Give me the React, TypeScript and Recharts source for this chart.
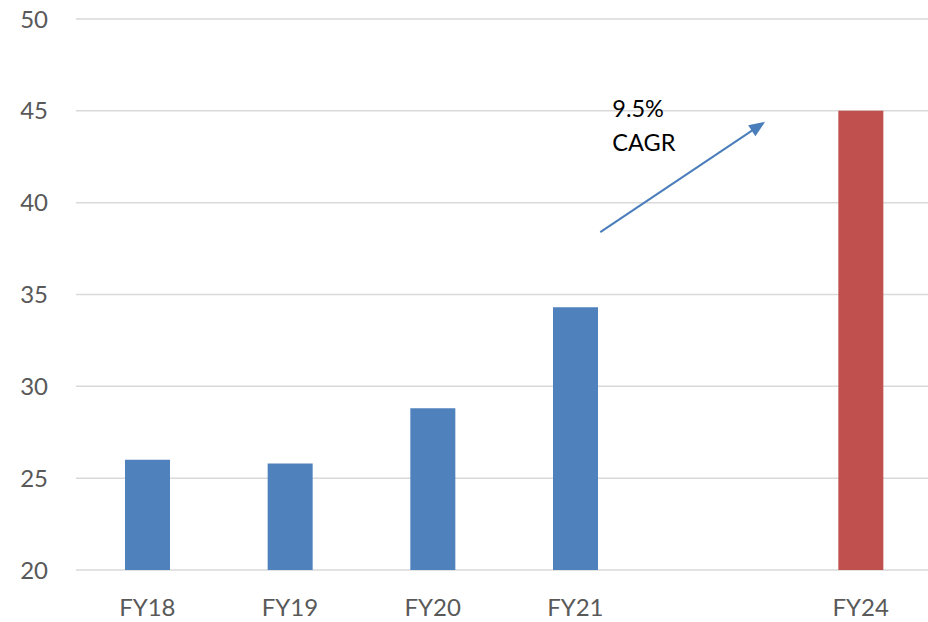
import React from "react";
import {
  BarChart,
  Bar,
  XAxis,
  YAxis,
  CartesianGrid,
  ReferenceLine,
} from "recharts";

// FY22 / FY23 are left blank in the source chart
const categories = ["FY18", "FY19", "FY20", "FY21", "", "FY24"];
const actualValues = [26, 25.8, 28.8, 34.3, null, null];
const projectedValues = [null, null, null, null, null, 45];
const yTicks = [20, 25, 30, 35, 40, 45, 50];

// CAGR arrow, in (category position, value) units
const arrowStart = { x: 3.675, y: 38.4 };
const arrowEnd = { x: 4.83, y: 44.4 };
const arrowLabel = ["9.5%", "CAGR"];

const data = categories.map((name, i) => ({
  name,
  pos: i + 0.5,
  actual: actualValues[i],
  projected: projectedValues[i],
}));

const FONT = "Lato, 'Open Sans', sans-serif";
const ARROW_COLOR = "#4A7EBB";

const ArrowShape = (props: any) => {
  const { x1, y1, x2, y2 } = props;
  const dx = x2 - x1;
  const dy = y2 - y1;
  const len = Math.sqrt(dx * dx + dy * dy) || 1;
  const ux = dx / len;
  const uy = dy / len;
  const headLen = 16;
  const half = 6.5;
  const bx = x2 - ux * headLen;
  const by = y2 - uy * headLen;
  const pts = [
    `${x2},${y2}`,
    `${bx - uy * half},${by + ux * half}`,
    `${bx + uy * half},${by - ux * half}`,
  ].join(" ");
  return (
    <g>
      <line
        x1={x1}
        y1={y1}
        x2={bx + ux * 2}
        y2={by + uy * 2}
        stroke={ARROW_COLOR}
        strokeWidth={2}
      />
      <polygon points={pts} fill={ARROW_COLOR} />
      <text x={x1 + 12} y={y2 - 5} fontSize={23.5} fontFamily={FONT} fill="#000">
        {arrowLabel[0]}
      </text>
      <text x={x1 + 12} y={y2 + 29} fontSize={23.5} fontFamily={FONT} fill="#000">
        {arrowLabel[1]}
      </text>
    </g>
  );
};

const App: React.FC = () => {
  return (
    <div
      style={{
        position: "absolute",
        left: 0,
        top: 0,
        width: 928,
        height: 622,
        overflow: "hidden",
        background: "#fff",
      }}
    >
      <BarChart
        width={932}
        height={622}
        data={data}
        margin={{ top: 19, right: 0, left: 0, bottom: 51 }}
      >
        <CartesianGrid
          vertical={false}
          stroke="#d9d9d9"
          strokeWidth={1.5}
        />
        <XAxis
          dataKey="name"
          height={1}
          axisLine={false}
          tickLine={false}
          tickSize={0}
          tickMargin={29}
          interval={0}
          tick={{ fill: "#595959", fontSize: 24, fontFamily: FONT }}
        />
        <XAxis
          xAxisId="pos"
          dataKey="pos"
          type="number"
          domain={[0, 6]}
          allowDataOverflow
          hide
        />
        <YAxis
          domain={[20, 50]}
          ticks={yTicks}
          allowDataOverflow
          width={76}
          axisLine={false}
          tickLine={false}
          tickSize={0}
          tickMargin={28}
          tick={{ fill: "#595959", fontSize: 24, fontFamily: FONT }}
        />
        <Bar
          dataKey="actual"
          stackId="a"
          fill="#4F81BD"
          barSize={45}
          isAnimationActive={false}
        />
        <Bar
          dataKey="projected"
          stackId="a"
          fill="#C0504D"
          barSize={45}
          isAnimationActive={false}
        />
        <ReferenceLine
          xAxisId="pos"
          segment={[arrowStart, arrowEnd]}
          shape={ArrowShape}
          ifOverflow="visible"
        />
      </BarChart>
    </div>
  );
};

export default App;
